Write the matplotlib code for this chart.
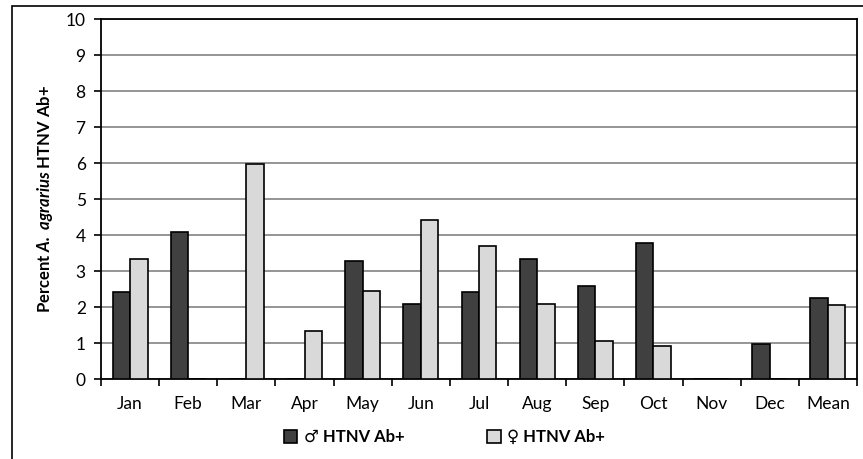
import numpy as np
import matplotlib.pyplot as plt
from matplotlib.patches import Rectangle

plt.rcParams['font.family'] = ['Lato', 'DejaVu Sans']
plt.rcParams['mathtext.fontset'] = 'custom'
plt.rcParams['mathtext.rm'] = 'Lato'
plt.rcParams['mathtext.bf'] = 'Lato:bold'
plt.rcParams['mathtext.it'] = 'Lato:italic'
plt.rcParams['mathtext.bfit'] = 'Lato:bold:italic'

# Datos
meses = ['Jan', 'Feb', 'Mar', 'Apr', 'May', 'Jun', 'Jul', 'Aug', 'Sep', 'Oct', 'Nov', 'Dec', 'Mean']
machos = [2.43, 4.09, 0, 0, 3.27, 2.08, 2.43, 3.33, 2.58, 3.77, 0, 0.98, 2.24]
hembras = [3.33, 0, 5.96, 1.33, 2.44, 4.43, 3.69, 2.08, 1.06, 0.92, 0, 0, 2.06]
yticks = list(range(0, 11))

fig = plt.figure(figsize=(8.63, 4.59), dpi=100)
ax = fig.add_axes([101 / 863, 1 - 379 / 459, 756 / 863, 360 / 459])

x = np.arange(len(meses))
w = 0.3
ax.bar(x - w / 2, machos, w, color='#404040', edgecolor='black', linewidth=1.2,
       label='\u2642 HTNV Ab+', zorder=3)
ax.bar(x + w / 2, hembras, w, color='#d9d9d9', edgecolor='black', linewidth=1.2,
       label='\u2640 HTNV Ab+', zorder=3)

ax.set_xlim(-0.5, len(meses) - 0.5)
ax.set_ylim(0, 10)
ax.set_yticks(yticks)
ax.yaxis.grid(True, color='#8c8c8c', linewidth=1.3, zorder=0)

# ticks entre categorías, etiquetas en el centro
ax.set_xticks(np.arange(len(meses) + 1) - 0.5)
ax.set_xticklabels([])
ax.set_xticks(x, minor=True)
ax.set_xticklabels(meses, minor=True, fontsize=12.5)
ax.tick_params(axis='x', which='major', direction='out', length=5, width=1.2)
ax.tick_params(axis='x', which='minor', length=0, pad=12)
ax.tick_params(axis='y', direction='out', length=5, width=1.2, labelsize=12.5, pad=6)

for s in ax.spines.values():
    s.set_linewidth(1.3)
    s.set_color('black')

ax.set_ylabel(r'Percent $\mathbfit{A.\ agrarius}$ HTNV Ab+', fontweight='bold',
              fontsize=12, labelpad=8)

fig.legend(loc='center', bbox_to_anchor=(0.515, 1 - 437 / 459), ncol=2, frameon=False,
           prop={'weight': 'bold', 'size': 12}, handlelength=0.8, handleheight=0.8,
           columnspacing=5, handletextpad=0.4)

# marco de la figura
fig.patches.append(Rectangle((12 / 863, -0.1), 1.0, 0.1 + 453 / 459, transform=fig.transFigure,
                             fill=False, edgecolor='black', linewidth=1.2))

plt.savefig('out.png', dpi=100)
